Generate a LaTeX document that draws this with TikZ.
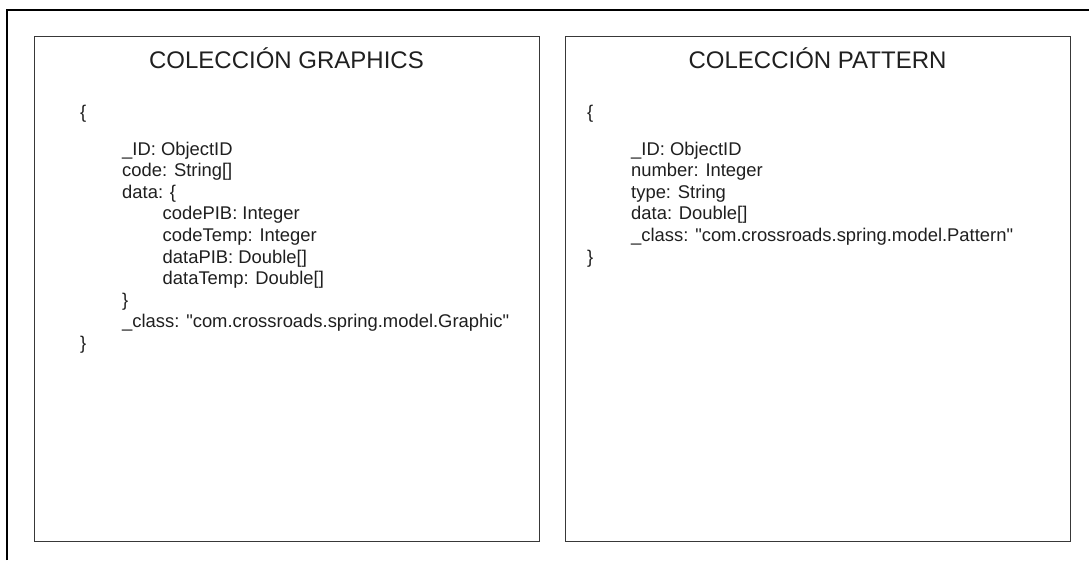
\documentclass[tikz,border=0pt]{standalone}
\usepackage{fontspec}
\newfontfamily\arialf{Liberation Sans}
\begin{document}
\begin{tikzpicture}[x=1pt,y=-1pt,
  frame/.style={line width=1.3pt,draw=black},
  box/.style={draw=black!78,line width=1.1pt,minimum width=505pt,minimum height=505pt,anchor=north west,inner sep=0pt},
  ttl/.style={anchor=base,font=\arialf\fontsize{24}{28}\selectfont,text=black!88,inner sep=0pt},
  txt/.style={anchor=base west,font=\arialf\fontsize{18.4}{21.6}\selectfont,text=black!88,inner sep=0pt}]
\useasboundingbox (0,0) rectangle (1089,560);
\draw[frame] (7,560) -- (7,10) -- (1089,10);
% boxes
\node[box] (gbox) at (34,36) {};
\node[box] (pbox) at (565,36) {};
% titles
\node[ttl] (gtitle) at (286.5,68.5) {COLECCIÓN GRAPHICS};
\node[ttl] (ptitle) at (817.5,68.5) {COLECCIÓN PATTERN};
% graphics collection
\node[txt] (g1) at (80,118) {\{};
\node[txt] (g2) at (122,155) {\_ID: ObjectID};
\node[txt] (g3) at (122,176.6) {code: String[]};
\node[txt] (g4) at (122,198.2) {data: \{};
\node[txt] (g5) at (162.5,219.8) {codePIB: Integer};
\node[txt] (g6) at (162.5,241.4) {codeTemp: Integer};
\node[txt] (g7) at (162.5,263) {dataPIB: Double[]};
\node[txt] (g8) at (162.5,284.6) {dataTemp: Double[]};
\node[txt] (g9) at (122,306.2) {\}};
\node[txt] (g10) at (122,327.8) {\_class: "com.crossroads.spring.model.Graphic"};
\node[txt] (g11) at (80,349.4) {\}};
% pattern collection
\node[txt] (p1) at (587,118) {\{};
\node[txt] (p2) at (631,155) {\_ID: ObjectID};
\node[txt] (p3) at (631,176.6) {number: Integer};
\node[txt] (p4) at (631,198.2) {type: String};
\node[txt] (p5) at (631,219.8) {data: Double[]};
\node[txt] (p6) at (631,241.4) {\_class: "com.crossroads.spring.model.Pattern"};
\node[txt] (p7) at (587,263) {\}};
\end{tikzpicture}
\end{document}
